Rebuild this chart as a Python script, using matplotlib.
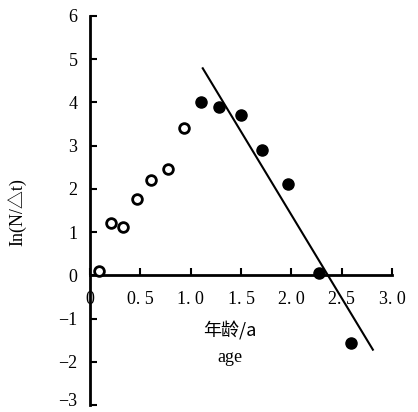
import matplotlib
matplotlib.use('Agg')
import matplotlib.pyplot as plt
from matplotlib.transforms import ScaledTranslation

# open circles: young age classes
young_age = [0.09, 0.205, 0.325, 0.47, 0.61, 0.77, 0.93]
young_ln  = [0.09, 1.21, 1.11, 1.76, 2.20, 2.47, 3.40]

# filled circles: used in the regression
old_age = [1.10, 1.28, 1.50, 1.71, 1.97, 2.27, 2.59]
old_ln  = [4.00, 3.90, 3.72, 2.89, 2.11, 0.05, -1.56]

# fitted catch curve line, end points
fit_age = [1.12, 2.81]
fit_ln  = [4.79, -1.72]

xticks = [0, 0.5, 1.0, 1.5, 2.0, 2.5, 3.0]
xtick_labels = ['0', '0. 5', '1. 0', '1. 5', '2. 0', '2. 5', '3. 0']
yticks = [-3, -2, -1, 0, 1, 2, 3, 4, 5, 6]
ytick_labels = ['\u22123', '\u22122', '\u22121', '0', '1', '2', '3', '4', '5', '6']

SERIF = ['Liberation Serif', 'Noto Sans CJK SC']
plt.rcParams['font.family'] = SERIF
FS = 13

fig = plt.figure(figsize=(4.18, 4.12), dpi=100)
ax = fig.add_axes([90/418, 1-405/412, (392-90)/418, (405-16)/412])

ax.plot(fit_age, fit_ln, color='black', lw=1.5, zorder=2)
ax.plot(young_age, young_ln, 'o', ms=7, mfc='white', mec='black', mew=2, zorder=3)
ax.plot(old_age, old_ln, 'o', ms=8, mfc='black', mec='black', zorder=3)

ax.set_xlim(0, 3.0)
ax.set_ylim(-3, 6)

for s in ['top', 'right']:
    ax.spines[s].set_visible(False)
ax.spines['bottom'].set_position(('data', 0))
ax.spines['left'].set_linewidth(2)
ax.spines['bottom'].set_linewidth(2)

ax.set_xticks(xticks)
ax.set_xticklabels(xtick_labels)
ax.set_yticks(yticks)
ax.set_yticklabels(ytick_labels)
ax.tick_params(axis='x', direction='in', length=5, width=1.5, pad=11, labelsize=FS)
ax.tick_params(axis='y', direction='in', length=5, width=1.5, pad=9, labelsize=FS)

# lowest label sits on the figure edge; nudge it up a little
low = ax.get_yticklabels()[0]
low.set_transform(low.get_transform() + ScaledTranslation(0, 6/100, fig.dpi_scale_trans))

fig.text(18/418, 1-212/412, 'In(N/\u25b3t)', rotation=90, ha='center', va='center',
         fontsize=FS, family=SERIF)
fig.text(230/418, 1-331/412, '年龄/a', ha='center', va='center', fontsize=FS,
         family=['Noto Sans CJK SC', 'Liberation Serif'])
fig.text(230/418, 1-358/412, 'age', ha='center', va='center', fontsize=FS,
         family=SERIF)

fig.savefig('out.png', dpi=100)
